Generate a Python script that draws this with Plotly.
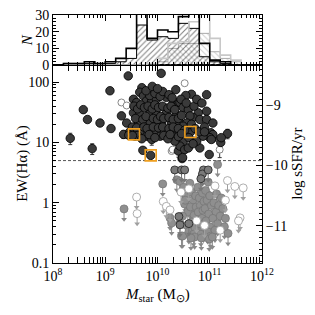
import plotly.graph_objects as go

# ---------------- data ----------------
# histogram bins in log10(Mstar)
hist_edges = [8.2, 8.4, 8.6, 8.8, 9.0, 9.2, 9.4, 9.6, 9.8, 10.0, 10.2, 10.4, 10.6, 10.8, 11.0, 11.2, 11.4, 11.6]
sf_all_counts = [1, 1, 2, 1, 2, 4, 10, 33, 16, 21, 20, 29, 31, 13, 3, 2, 0]
sf_sub_counts = [1, 1, 1, 1, 1, 2, 4, 24, 15, 17, 16, 25, 22, 5, 2, 1, 0]
q_all_counts = [0, 0, 0, 0, 0, 0, 0, 0, 1, 4, 13, 14, 26, 34, 16, 6, 3]
q_sub_counts = [0, 0, 0, 0, 0, 0, 0, 0, 0, 2, 10, 13, 13, 19, 8, 4, 2]

# star-forming galaxies (filled dark circles)
sf_logM = [9.44, 10.07, 8.33, 8.58, 8.66, 8.90, 9.09, 9.11, 8.75, 9.72, 9.31, 9.35,
           10.65, 10.94, 10.54, 11.34, 11.21, 10.99, 10.47, 11.02, 11.05, 10.81,
           9.70, 9.66, 9.73, 9.54, 9.60, 9.79, 9.89, 9.98, 10.17, 10.30, 10.40,
           9.54, 9.66, 9.86, 9.98, 10.17, 10.36,
           9.41, 9.63, 9.86, 10.08, 10.27, 10.43,
           9.47, 9.66, 9.86, 9.98, 10.17, 10.36,
           9.57, 9.79, 10.05, 10.30,
           9.89, 9.87, 10.40, 10.35, 10.94, 10.78, 10.68, 10.81, 10.94, 11.06, 11.22,
           11.06, 11.00, 11.03, 10.87, 10.75, 10.49, 10.43, 10.52, 10.59, 10.33, 10.48,
           10.63, 10.43, 10.49, 10.59, 10.62, 10.56, 10.49,
           9.55, 9.62, 9.68, 9.75, 9.82, 9.90, 9.95, 10.02, 10.10, 10.20, 10.26, 10.33,
           9.58, 9.72, 9.78, 9.92, 10.00, 10.06, 10.12, 10.22, 10.30, 10.40, 10.46,
           9.52, 9.60, 9.74, 9.80, 9.92, 10.02, 10.10, 10.22, 10.30, 10.40, 10.52,
           9.62, 9.70, 9.84, 9.95, 10.12, 10.20, 10.24, 10.40, 10.46, 9.45, 9.52,
           9.85, 9.95, 10.05, 10.10, 10.22, 9.78, 9.90, 10.00, 10.28, 10.45, 10.55,
           10.70, 10.75, 10.85, 10.65, 10.72, 10.80, 10.90, 10.60, 10.68, 10.90]
sf_EW = [127, 140, 11.7, 35, 24, 21, 72, 17, 7.9, 7.4, 27.6, 13.6,
         63, 62, 60, 14, 10, 6.3, 5.4, 14.5, 11.7, 8.1,
         81, 68, 59, 52, 46, 49, 49, 52, 56, 46, 46,
         31, 29, 31, 29, 31, 29,
         21, 21, 21, 21, 21, 21,
         15, 15, 15, 15, 15, 15,
         12.7, 12.7, 12.7, 12.7,
         11.2, 6.1, 7.2, 75, 33, 31, 26, 24, 24, 21, 12,
         13.5, 12, 11.2, 12.7, 10.5, 10, 8.7, 7.6, 8.1, 10.5, 5.6,
         14.9, 46, 38, 35, 27.5, 21, 18.6,
         40, 36, 42, 38, 40, 36, 42, 38, 40, 37, 40, 35,
         25, 24, 27, 25, 24, 27, 25, 26, 24, 25, 28,
         18, 17.5, 18, 17, 18, 17.5, 18, 17, 18, 17, 16,
         13, 11.5, 13.5, 12, 13, 11.5, 13.5, 12.5, 14, 13.2, 13,
         60, 65, 58, 70, 62, 72, 85, 78, 55, 52, 45,
         40, 52, 45, 20, 17, 15, 18, 12, 9.5, 15]

# error bars on a few detections
err_logM = [8.33, 8.75, 9.89, 11.21, 11.34, 9.35, 10.40, 11.19]
err_EW = [11.7, 7.9, 11.2, 10, 14, 13.6, 7.2, 7.6]
err_size = [2.5, 1.6, 2.2, 3.0, 2.5, 2.0, 1.5, 2.0]

# open circles (detections, open symbols)
open_logM = [9.31, 9.41, 10.52, 10.27, 11.19, 10.29, 10.69, 9.75, 10.10]
open_EW = [46, 41, 96, 7.2, 7.6, 7.6, 11, 30, 27]

# quiescent upper limits: grey filled
q_logM = [10.10, 9.36, 10.24, 10.27, 10.37, 10.43, 10.43, 10.46, 10.48,
          10.50, 10.55, 10.52, 10.58, 10.48, 10.56, 10.60, 10.53,
          10.62, 10.65, 10.68, 10.63, 10.70, 10.66, 10.72, 10.69, 10.74, 10.73,
          10.77, 10.80, 10.82, 10.78, 10.85, 10.80, 10.88, 10.83, 10.87, 10.89, 10.86,
          10.92, 10.95, 10.91, 10.98, 10.93, 11.00, 10.96, 11.02, 11.03, 11.00, 10.97,
          11.08, 11.12, 11.06, 11.15, 11.10, 11.13, 11.17, 11.15, 11.20,
          11.25, 11.30, 11.35, 11.22, 11.28, 10.71, 10.84, 10.99, 11.05, 10.64]
q_EW = [2.05, 0.79, 0.56, 0.46, 2.4, 2.25, 0.46, 0.28, 0.28,
        1.8, 1.3, 0.95, 0.7, 0.6, 0.42, 0.33, 1.1,
        2.1, 1.5, 1.1, 0.85, 0.62, 0.48, 0.38, 0.3, 0.85, 1.3,
        1.8, 1.2, 0.9, 0.7, 0.55, 0.45, 0.35, 0.3, 0.75, 1.05, 1.45,
        1.6, 1.1, 0.8, 0.65, 0.5, 0.4, 0.33, 0.28, 0.9, 1.3, 2.2,
        1.0, 0.7, 0.55, 0.45, 0.35, 1.4, 0.9, 4.3, 0.6,
        0.8, 0.55, 0.31, 1.2, 0.4, 0.27, 0.26, 0.25, 0.27, 0.26]

# quiescent upper limits: open circles
qo_logM = [9.60, 9.61, 10.11, 10.17, 10.24, 11.34, 11.48, 11.64, 11.58, 11.55,
           10.45, 10.60, 10.75, 11.10, 11.30, 10.90, 11.20]
qo_EW = [1.24, 0.66, 1.05, 0.87, 0.76, 2.33, 1.86, 1.76, 0.56, 0.5,
         1.5, 1.7, 0.5, 1.9, 1.1, 0.42, 0.35]

# quiescent upper limits: dark ringed
qd_logM = [10.33, 10.46, 10.52, 10.88, 10.86, 10.83, 10.41, 10.43, 10.97, 10.60]
qd_EW = [3.5, 3.5, 3.5, 3.5, 3.0, 2.5, 0.59, 0.43, 3.5, 0.45]

# highlighted objects (orange squares)
hl_logM = [9.55, 9.87, 10.63]
hl_EW = [13.6, 6.1, 14.9]

EW_CUT = 5.0
SSFR_OFFSET = -10.617  # log sSFR = log EW + offset

x_ticks = [1e8, 1e9, 1e10, 1e11, 1e12]
x_ticktext = ["10<sup>8</sup>", "10<sup>9</sup>", "10<sup>10</sup>", "10<sup>11</sup>", "10<sup>12</sup>"]
y_ticks = [0.1, 1, 10, 100]
y_ticktext = ["0.1", "1", "10", "100"]
ssfr_ticks = [-9, -10, -11]
ssfr_ticktext = ["\u22129", "\u221210", "\u221211"]
n_ticks = [0, 10, 20, 30]

# ---------------- helpers ----------------
def lin(v):
    return [10 ** a for a in v]

def step(edges, counts):
    xs = [10 ** edges[0]] + [10 ** e for e in edges[:-1]] + [10 ** edges[-1]]
    ys = [0] + list(counts) + [0]
    return xs, ys

x_minor = [m * 10 ** d for d in range(8, 12) for m in range(2, 10)]
y_minor = [m * 10 ** d for d in range(-1, 3) for m in range(2, 10)]

FONT = "Liberation Serif"
fig = go.Figure()

# ---------------- histograms ----------------
xs, ys = step(hist_edges, q_sub_counts)
fig.add_trace(go.Scatter(x=xs, y=ys, mode="lines", line=dict(color="#aaaaaa", width=1, shape="hv"),
                         fill="tozeroy", fillcolor="rgba(0,0,0,0)",
                         fillpattern=dict(shape="\\", fgcolor="#999999", bgcolor="rgba(0,0,0,0)", size=4, solidity=0.25),
                         xaxis="x2", yaxis="y2", showlegend=False, hoverinfo="skip"))
xs, ys = step(hist_edges, sf_sub_counts)
fig.add_trace(go.Scatter(x=xs, y=ys, mode="lines", line=dict(color="black", width=1, shape="hv"),
                         fill="tozeroy", fillcolor="rgba(0,0,0,0)",
                         fillpattern=dict(shape="/", fgcolor="black", bgcolor="rgba(0,0,0,0)", size=4, solidity=0.25),
                         xaxis="x2", yaxis="y2", showlegend=False, hoverinfo="skip"))
xs, ys = step(hist_edges, q_all_counts)
fig.add_trace(go.Scatter(x=xs, y=ys, mode="lines", line=dict(color="#c8c8c8", width=1.6, shape="hv"),
                         xaxis="x2", yaxis="y2", showlegend=False, hoverinfo="skip"))
xs, ys = step(hist_edges, sf_all_counts)
fig.add_trace(go.Scatter(x=xs, y=ys, mode="lines", line=dict(color="black", width=1.6, shape="hv"),
                         xaxis="x2", yaxis="y2", showlegend=False, hoverinfo="skip"))

# ---------------- main panel ----------------
fig.add_trace(go.Scatter(x=[1e8, 1e12], y=[EW_CUT, EW_CUT], mode="lines",
                         line=dict(color="#555555", width=1, dash="3px,2px"), showlegend=False))

STEM = 10 ** -0.17

def uplim(lm, ew, fill, edge, stemcol):
    xv = lin(lm)
    fig.add_trace(go.Scatter(
        x=xv, y=[e * STEM for e in ew], mode="markers",
        marker=dict(symbol="triangle-down", size=5, color=stemcol, line=dict(width=0)),
        showlegend=False, hoverinfo="skip"))
    fig.add_trace(go.Scatter(
        x=xv, y=ew, mode="markers",
        marker=dict(symbol="circle", size=8, color=fill, line=dict(color=edge, width=0.8)),
        error_y=dict(type="data", symmetric=False, array=[0] * len(ew),
                     arrayminus=[e * (1 - STEM) for e in ew], color=stemcol, thickness=1, width=0),
        showlegend=False, hoverinfo="skip"))

uplim(q_logM, q_EW, "#8f8f8f", "#777777", "#8a8a8a")
uplim(qo_logM, qo_EW, "white", "#999999", "#a0a0a0")
uplim(qd_logM, qd_EW, "#7a7a7a", "#222222", "#777777")

# error bars on detections
fig.add_trace(go.Scatter(x=lin(err_logM), y=err_EW, mode="markers",
                         marker=dict(size=1, color="rgba(0,0,0,0)"),
                         error_y=dict(type="data", array=err_size, color="#333333", thickness=1, width=2),
                         showlegend=False, hoverinfo="skip"))

fig.add_trace(go.Scatter(x=lin(open_logM), y=open_EW, mode="markers",
                         marker=dict(symbol="circle", size=7, color="white", line=dict(color="#888888", width=1)),
                         showlegend=False, hoverinfo="skip"))

fig.add_trace(go.Scatter(x=lin(sf_logM), y=sf_EW, mode="markers",
                         marker=dict(symbol="circle", size=8.5, color="#3a3a3a", line=dict(color="black", width=0.8)),
                         showlegend=False, hoverinfo="skip"))

fig.add_trace(go.Scatter(x=lin(hl_logM), y=hl_EW, mode="markers",
                         marker=dict(symbol="square-open", size=11, color="#f0a020", line=dict(color="#f0a020", width=1.6)),
                         showlegend=False, hoverinfo="skip"))

# dummy on right axis
fig.add_trace(go.Scatter(x=[1e8], y=[-10], mode="markers", marker=dict(opacity=0),
                         yaxis="y3", showlegend=False, hoverinfo="skip"))

tickfont = dict(family=FONT, size=14, color="black")
common = dict(showline=True, linecolor="black", linewidth=1, ticks="inside", tickcolor="black",
              showgrid=False, zeroline=False, tickfont=tickfont, ticklabeloverflow="allow")

# the page body adds an 8px offset; the figure is sized so the plot lands where the reference has it
fig.update_layout(
    width=307, height=307,
    margin=dict(l=45, r=53, t=7, b=52, autoexpand=False),
    paper_bgcolor="white", plot_bgcolor="white",
    font=dict(family=FONT, size=14, color="black"),
    xaxis=dict(type="log", range=[8, 12], domain=[0, 1], anchor="y", tickmode="array",
               tickvals=x_ticks, ticktext=x_ticktext, ticklen=6, mirror="allticks",
               minor=dict(tickmode="array", tickvals=x_minor, ticklen=3, ticks="inside", tickcolor="black"),
               **common),
    yaxis=dict(type="log", range=[-1, 2.283], domain=[0, 0.798], anchor="x", tickmode="array",
               tickvals=y_ticks, ticktext=y_ticktext, ticklen=6,
               minor=dict(tickmode="array", tickvals=y_minor, ticklen=3, ticks="inside", tickcolor="black"),
               **common),
    yaxis3=dict(overlaying="y", side="right", anchor="x", range=[-1 + SSFR_OFFSET, 2.283 + SSFR_OFFSET],
                tickmode="array", tickvals=ssfr_ticks, ticktext=ssfr_ticktext, ticklen=6,
                minor=dict(dtick=0.1, ticklen=3, ticks="inside", tickcolor="black"),
                **common),
    xaxis2=dict(type="log", range=[8, 12], domain=[0, 1], anchor="y2", tickmode="array",
                tickvals=x_ticks, showticklabels=False, ticklen=6, mirror="allticks",
                minor=dict(tickmode="array", tickvals=x_minor, ticklen=3, ticks="inside", tickcolor="black"),
                **common),
    yaxis2=dict(range=[0, 30], domain=[0.798, 1], anchor="x2", tickmode="array", tickvals=n_ticks,
                ticklen=6, mirror="allticks",
                minor=dict(dtick=2, ticklen=3, ticks="inside", tickcolor="black"),
                **common),
    annotations=[
        dict(text="EW(H\u03b1) (\u00c5)", xref="paper", yref="paper", x=-0.1435, y=0.4,
             textangle=-90, showarrow=False, xanchor="center", yanchor="middle", font=dict(size=15)),
        dict(text="log sSFR/yr", xref="paper", yref="paper", x=1.167, y=0.4,
             textangle=-90, showarrow=False, xanchor="center", yanchor="middle", font=dict(size=15)),
        dict(text="<i>N</i>", xref="paper", yref="paper", x=-0.124, y=0.899,
             textangle=-90, showarrow=False, xanchor="center", yanchor="middle", font=dict(size=15)),
        dict(text="<i>M</i><sub>star</sub> (M<sub>\u2299</sub>)", xref="paper", yref="paper", x=0.5, y=-0.129,
             showarrow=False, xanchor="center", yanchor="middle", font=dict(size=15)),
    ],
)

fig.write_html("out.html")
